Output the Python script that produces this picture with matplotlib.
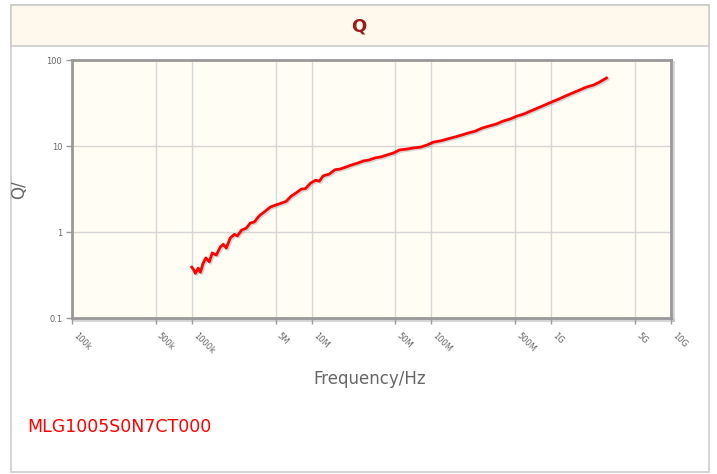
import numpy as np
import matplotlib.pyplot as plt
from matplotlib.patches import Rectangle
import matplotlib.patheffects as pe

# Q vs frequency
freq = [1.00e6, 1.04e6, 1.07e6, 1.13e6, 1.18e6, 1.24e6, 1.31e6, 1.40e6, 1.48e6, 1.60e6,
        1.73e6, 1.83e6, 1.94e6, 2.09e6, 2.27e6, 2.40e6, 2.60e6, 2.85e6, 3.08e6, 3.33e6,
        3.65e6, 4.11e6, 4.52e6, 4.97e6, 5.56e6, 6.12e6, 6.73e6, 7.40e6, 8.20e6, 8.90e6,
        9.80e6, 10.8e6, 11.6e6, 12.5e6, 14.0e6, 15.7e6, 17.3e6, 19.4e6, 21.4e6, 24.0e6,
        27.1e6, 30.4e6, 34.2e6, 38.3e6, 43.0e6, 48.3e6, 54.2e6, 62.0e6, 70.8e6, 81.0e6,
        92.6e6, 104e6, 120e6, 137e6, 156e6, 179e6, 204e6, 233e6, 266e6, 304e6,
        348e6, 397e6, 454e6, 519e6, 593e6, 678e6, 775e6, 885e6, 1.01e9, 1.16e9,
        1.32e9, 1.51e9, 1.73e9, 1.98e9, 2.26e9, 2.54e9, 2.90e9]
q = [0.39, 0.36, 0.33, 0.38, 0.34, 0.43, 0.50, 0.45, 0.57, 0.54,
     0.67, 0.72, 0.65, 0.85, 0.94, 0.90, 1.05, 1.11, 1.27, 1.31,
     1.54, 1.75, 1.95, 2.05, 2.16, 2.27, 2.6, 2.84, 3.15, 3.2,
     3.7, 4.0, 3.9, 4.5, 4.7, 5.3, 5.4, 5.7, 6.0, 6.3,
     6.7, 6.9, 7.3, 7.5, 7.9, 8.3, 9.0, 9.2, 9.5, 9.7,
     10.3, 11.1, 11.5, 12.1, 12.7, 13.4, 14.2, 14.9, 16.2, 17.1,
     18.0, 19.5, 20.6, 22.3, 23.6, 25.6, 27.7, 30.0, 32.5, 35.2,
     38.2, 41.4, 44.8, 48.6, 51.2, 55.5, 61.8]

xticks = [1e5, 5e5, 1e6, 5e6, 1e7, 5e7, 1e8, 5e8, 1e9, 5e9, 1e10]
xlabels = ['100k', '500k', '1000k', '5M', '10M', '50M', '100M', '500M', '1G', '5G', '10G']
yticks = [0.1, 1, 10, 100]
ylabels = ['0.1', '1', '10', '100']
part = 'MLG1005S0N7CT000'

W, H = 717, 474
fig = plt.figure(figsize=(W / 100, H / 100), dpi=100)

def px(x0, y0, w, h):
    return [x0 / W, 1 - (y0 + h) / H, w / W, h / H]

# card and title band, kept behind the axes
fig.patches.append(Rectangle((11 / W, 1 - 472 / H), 698 / W, 467 / H, transform=fig.transFigure,
                             facecolor='white', edgecolor='#cccccc', lw=1.2, zorder=-2))
fig.patches.append(Rectangle((11 / W, 1 - 46 / H), 698 / W, 41 / H, transform=fig.transFigure,
                             facecolor='#fef9ec', edgecolor='#cccccc', lw=1.2, zorder=-1))
fig.text(359 / W, 1 - 26 / H, 'Q', ha='center', va='center', fontsize=13,
         fontweight='bold', color='#9b1c1c')

ax = fig.add_axes(px(72, 60, 599, 258))
ax.set_facecolor('#fffdf4')
ax.set_xscale('log')
ax.set_yscale('log')
ax.set_xlim(1e5, 1e10)
ax.set_ylim(0.1, 100)

ax.plot(freq, q, color='red', lw=2,
        path_effects=[pe.SimpleLineShadow(offset=(1, -1), shadow_color='#888888', alpha=0.35),
                      pe.Normal()])

ax.set_xticks(xticks)
ax.set_xticklabels([])
ax.xaxis.set_minor_locator(plt.NullLocator())
ax.yaxis.set_minor_locator(plt.NullLocator())
ax.set_yticks(yticks)
ax.set_yticklabels(ylabels, fontsize=6, color='#666666')
ax.tick_params(axis='y', length=4, width=1, color='#999999', pad=3)
ax.tick_params(axis='x', length=4, width=1, color='#999999')
ax.grid(True, color='#d6d6d6', lw=1)
ax.set_axisbelow(True)

for s in ax.spines.values():
    s.set_color('#999999')
    s.set_linewidth(2)
for name in ['right', 'bottom']:
    ax.spines[name].set_path_effects([pe.SimpleLineShadow(offset=(1.5, -1.5), shadow_color='#aaaaaa', alpha=0.5),
                                      pe.Normal()])

for t, lab in zip(xticks, xlabels):
    ax.annotate(lab, xy=(t, 0.1), xycoords='data', xytext=(2, -12), textcoords='offset points',
                rotation=-45, rotation_mode='anchor', ha='left', va='center',
                fontsize=6, color='#666666', annotation_clip=False)

fig.text(19 / W, 1 - 190 / H, 'Q/', rotation=90, ha='center', va='center',
         fontsize=12, color='#666666')
fig.text(370 / W, 1 - 379 / H, 'Frequency/Hz', ha='center', va='center',
         fontsize=12, color='#666666')
fig.text(27 / W, 1 - 427 / H, part, ha='left', va='center', fontsize=12.5, color='red')

fig.savefig('out.png', dpi=100)
